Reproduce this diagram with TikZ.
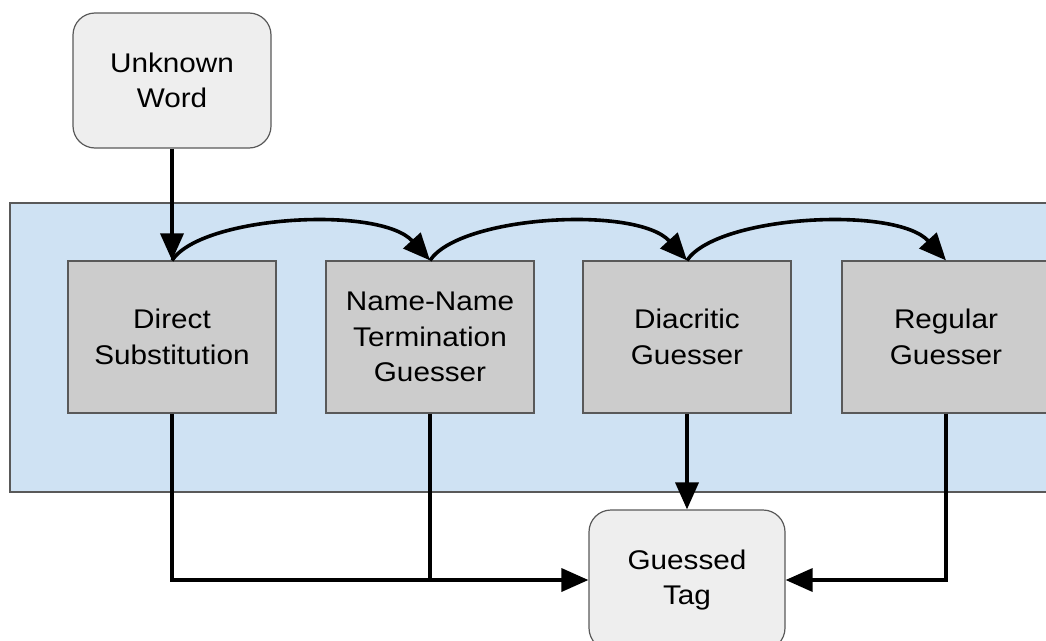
\documentclass[tikz,border=0pt]{standalone}
\usepackage{fontspec}
\setmainfont{Liberation Sans}[FakeStretch=1.1]
\usetikzlibrary{arrows.meta}
\definecolor{panelblue}{HTML}{CFE2F3}
\definecolor{stepgray}{HTML}{CCCCCC}
\definecolor{termgray}{HTML}{EEEEEE}
\definecolor{edgegray}{HTML}{595959}
\tikzset{
  txt/.style={font=\fontsize{27}{35.5}\selectfont, align=center, text=black},
  stagebox/.style={txt, draw=edgegray, line width=1.2pt, fill=stepgray,
    minimum width=208pt, minimum height=152pt, inner sep=0pt},
  termbox/.style={txt, draw=edgegray, line width=1.2pt, fill=termgray,
    rounded corners=22pt, inner sep=0pt},
  flow/.style={line width=3.6pt, -{Triangle[length=27pt,width=23pt]}},
  wire/.style={line width=3.6pt}
}
\begin{document}
\begin{tikzpicture}[x=1pt,y=-1pt]
  \useasboundingbox (0,0) rectangle (1046,640);
  \begin{scope}
    \clip (0,0) rectangle (1046,640);
    % processing panel
    \fill[panelblue, draw=edgegray, line width=1.2pt] (10,203) rectangle (1060,492);
    % guesser stages
    \node[stagebox] (ds) at (172,337) {Direct\\Substitution};
    \node[stagebox] (nn) at (430,337) {Name-Name\\Termination\\Guesser};
    \node[stagebox] (dg) at (687,337) {Diacritic\\Guesser};
    \node[stagebox] (rg) at (946,337) {Regular\\Guesser};
    % input and output
    \node[termbox, minimum width=198pt, minimum height=135pt] (uw) at (172,80.5) {Unknown\\Word};
    \node[termbox, minimum width=196pt, minimum height=140pt] (gt) at (687,580) {Guessed\\Tag};
    % junction points on the collecting line
    \coordinate (j1) at (ds.south |- gt.west);
    \coordinate (j2) at (nn.south |- gt.west);
    \coordinate (j4) at (rg.south |- gt.east);
    % connectors
    \draw[flow] (uw.south) -- (ds.north);
    \draw[flow] (ds.north) .. controls +(30,-45) and +(-50,-55) .. (nn.north);
    \draw[flow] (nn.north) .. controls +(30,-45) and +(-50,-55) .. (dg.north);
    \draw[flow] (dg.north) .. controls +(30,-45) and +(-50,-55) .. (rg.north);
    \draw[wire] (nn.south) -- (j2);
    \draw[flow, line join=miter] (ds.south) -- (j1) -- (gt.west);
    \draw[flow] (dg.south) -- (gt.north);
    \draw[flow, line join=miter] (rg.south) -- (j4) -- (gt.east);
  \end{scope}
\end{tikzpicture}
\end{document}
